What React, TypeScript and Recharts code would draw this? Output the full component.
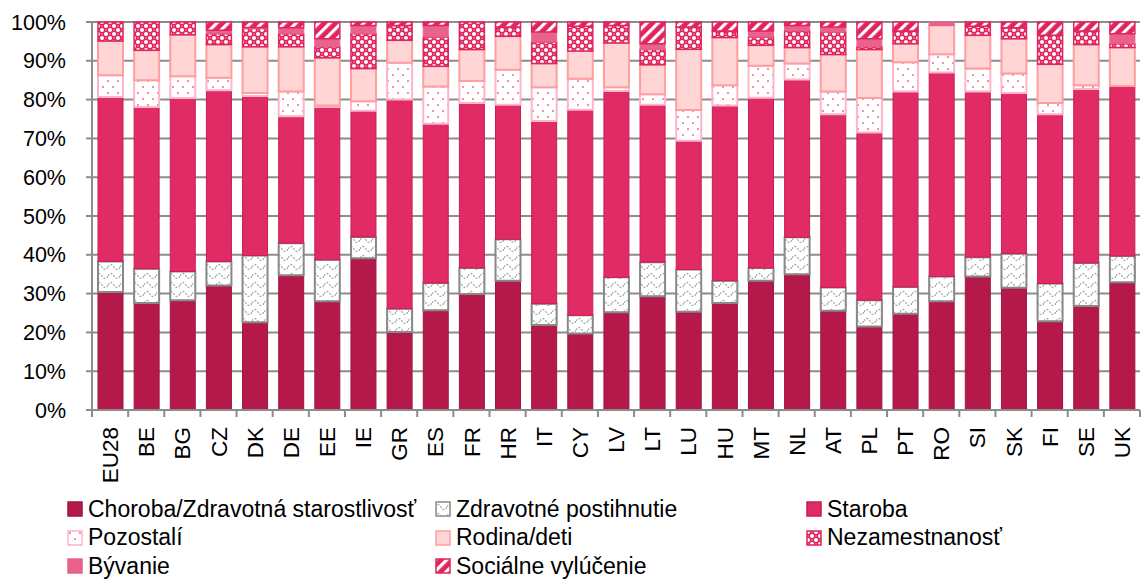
import React from 'react';
import { BarChart, Bar, XAxis, YAxis, CartesianGrid, Legend } from 'recharts';

const categories = ['EU28','BE','BG','CZ','DK','DE','EE','IE','GR','ES','FR','HR','IT','CY','LV','LT','LU','HU','MT','NL','AT','PL','PT','RO','SI','SK','FI','SE','UK'];

const choroba = [30.4,27.6,28.3,32.1,22.6,34.7,28.0,39.1,20.1,25.7,29.9,33.3,21.9,19.7,25.2,29.3,25.3,27.6,33.3,35.0,25.6,21.5,24.8,28.0,34.4,31.5,22.9,26.8,32.9];
const zdravotne = [7.9,8.8,7.4,6.2,17.2,8.3,10.7,5.5,6.0,7.0,6.7,10.7,5.5,4.7,9.0,8.8,10.9,5.7,3.3,9.5,6.0,6.8,6.9,6.4,5.0,8.8,9.7,11.1,6.8];
const staroba = [42.4,41.7,44.7,44.1,41.1,32.7,39.4,32.5,53.9,41.1,42.5,34.7,47.1,53.0,48.0,40.6,33.2,45.2,43.9,40.7,44.6,43.2,50.4,52.6,42.7,41.4,43.6,44.8,43.8];
const pozostali = [5.6,6.9,5.6,3.2,0.8,6.4,0.4,2.5,9.5,9.6,5.7,9.0,8.7,8.0,1.0,2.7,7.9,5.2,8.2,4.1,5.9,8.9,7.5,4.7,5.9,5.0,2.9,1.0,0];
const rodina = [8.8,7.7,10.7,8.6,11.9,11.5,12.3,8.4,5.8,5.2,8.1,8.6,6.1,7.1,11.4,7.6,15.7,12.3,5.3,4.1,9.5,12.5,4.8,7.4,8.6,9.0,10.0,10.5,9.9];
const nezamestnanost = [4.9,7.3,3.3,2.8,4.7,3.4,2.8,9.0,3.8,7.5,7.1,2.4,5.5,6.4,4.5,3.9,5.7,1.7,2.1,4.3,5.8,0.7,3.3,0,2.3,2.8,7.5,3.5,1.0];
const byvanie = [0,0,0,0.9,0.3,1.5,2.1,2.1,0,3.0,0,0,2.6,0,0,1.5,0,0,1.6,1.4,1.3,2.1,0,0.9,0,0,0,0,2.6];
const socialne = [0,0,0,2.1,1.4,1.5,4.3,0.9,0.9,0.9,0,1.3,2.6,1.1,0.9,5.6,1.3,2.3,2.3,0.9,1.3,4.3,2.3,0,1.1,1.5,3.4,2.3,3.0];

const yTicks = [0, 0.1, 0.2, 0.3, 0.4, 0.5, 0.6, 0.7, 0.8, 0.9, 1];

const data = categories.map((c, i) => ({
  name: c,
  choroba: choroba[i],
  zdravotne: zdravotne[i],
  staroba: staroba[i],
  pozostali: pozostali[i],
  rodina: rodina[i],
  nezamestnanost: nezamestnanost[i],
  byvanie: byvanie[i],
  socialne: socialne[i],
}));

const FONT = '"Liberation Sans", Arial, sans-serif';
const GRID = '#8c8c8c';

const series = [
  { key: 'choroba', name: 'Choroba/Zdravotná starostlivosť', fill: '#B5194A', stroke: '#A0153F', sw: 1 },
  { key: 'zdravotne', name: 'Zdravotné postihnutie', fill: 'url(#patWave)', stroke: '#888888', sw: 2 },
  { key: 'staroba', name: 'Staroba', fill: '#E02B65', stroke: '#C81E55', sw: 1 },
  { key: 'pozostali', name: 'Pozostalí', fill: 'url(#patDots)', stroke: '#FFB5C8', sw: 2 },
  { key: 'rodina', name: 'Rodina/deti', fill: '#FFD5D6', stroke: '#FF9E9E', sw: 2 },
  { key: 'nezamestnanost', name: 'Nezamestnanosť', fill: 'url(#patCheck)', stroke: '#E0245E', sw: 1.5 },
  { key: 'byvanie', name: 'Bývanie', fill: '#E8628C', stroke: '#E8628C', sw: 1 },
  { key: 'socialne', name: 'Sociálne vylúčenie', fill: 'url(#patStripe)', stroke: '#E0245E', sw: 1.5 },
];

const XTick = (props: any) => {
  const { x, y, payload, index } = props;
  const off = payload && payload.offset ? payload.offset : 18.07;
  const axisY = y - 10;
  const ty = axisY + 17;
  return (
    <g>
      <line x1={x - off} x2={x - off} y1={axisY} y2={axisY + 7} stroke={GRID} strokeWidth={2} />
      {index === categories.length - 1 && (
        <line x1={x + off} x2={x + off} y1={axisY} y2={axisY + 7} stroke={GRID} strokeWidth={2} />
      )}
      <text
        x={x}
        y={ty}
        transform={`rotate(-90 ${x} ${ty})`}
        textAnchor="end"
        dy="0.36em"
        fill="#000"
        fontSize={22.5}
        fontFamily={FONT}
      >
        {payload.value}
      </text>
    </g>
  );
};

const LegendContent = () => (
  <div
    style={{
      width: 1142,
      height: 103,
      boxSizing: 'border-box',
      paddingLeft: 67,
      paddingTop: 15,
      display: 'grid',
      gridTemplateColumns: '368px 371px 300px',
      gridAutoRows: '28.6px',
      fontFamily: FONT,
      fontSize: 23,
      color: '#000',
    }}
  >
    {series.map((s) => (
      <div key={s.key} style={{ display: 'flex', alignItems: 'center', whiteSpace: 'nowrap' }}>
        <svg width={16} height={16} style={{ marginRight: 5, flexShrink: 0 }}>
          <rect x={1} y={1} width={14} height={14} fill={s.fill} stroke={s.stroke} strokeWidth={1.5} />
        </svg>
        <span>{s.name}</span>
      </div>
    ))}
  </div>
);

export default function App() {
  return (
    <div style={{ position: 'absolute', left: 0, top: 0, width: 1142, height: 583, background: '#fff' }}>
      <BarChart
        width={1142}
        height={583}
        data={data}
        stackOffset="expand"
        margin={{ top: 22, right: 2, bottom: 0, left: 0 }}
        barSize={25}
      >
        <defs>
          <pattern id="patWave" patternUnits="userSpaceOnUse" width="12" height="9">
            <rect width="12" height="9" fill="#ffffff" />
            <path d="M0 6 Q3 1 6 6 T12 6" fill="none" stroke="#a8a8a8" strokeWidth="1.3" strokeDasharray="2 1.5" />
          </pattern>
          <pattern id="patDots" patternUnits="userSpaceOnUse" width="10" height="12">
            <rect width="10" height="12" fill="#ffffff" />
            <rect x="2" y="2" width="2" height="2" fill="#F48FB1" />
            <rect x="7" y="8" width="2" height="2" fill="#F48FB1" />
          </pattern>
          <pattern id="patCheck" patternUnits="userSpaceOnUse" width="8" height="8">
            <rect width="8" height="8" fill="#E0245E" />
            <circle cx="2" cy="2" r="2" fill="#ffffff" />
            <circle cx="6" cy="6" r="2" fill="#ffffff" />
            <rect x="5.5" y="1.5" width="1" height="1" fill="#ffffff" />
            <rect x="1.5" y="5.5" width="1" height="1" fill="#ffffff" />
          </pattern>
          <pattern id="patStripe" patternUnits="userSpaceOnUse" width="8" height="8" patternTransform="rotate(45)">
            <rect width="8" height="8" fill="#E0245E" />
            <rect x="0" y="0" width="3.2" height="8" fill="#ffffff" />
          </pattern>
        </defs>
        <CartesianGrid vertical={false} stroke={GRID} strokeWidth={2} />
        <XAxis
          dataKey="name"
          height={70}
          interval={0}
          tickLine={false}
          tickSize={6}
          tickMargin={4}
          axisLine={{ stroke: GRID, strokeWidth: 2 }}
          tick={<XTick />}
        />
        <YAxis
          width={92}
          domain={[0, 1]}
          ticks={yTicks}
          interval={0}
          tickFormatter={(v: number) => `${Math.round(v * 100)}%`}
          tick={{ fill: '#000', fontSize: 21.5, fontFamily: FONT }}
          tickSize={6}
          tickMargin={20}
          tickLine={{ stroke: GRID, strokeWidth: 2 }}
          axisLine={{ stroke: GRID, strokeWidth: 2 }}
        />
        <Legend verticalAlign="bottom" content={<LegendContent />} wrapperStyle={{ left: 0, width: 1142, height: 103 }} />
        {series.map((s) => (
          <Bar
            key={s.key}
            dataKey={s.key}
            name={s.name}
            stackId="a"
            fill={s.fill}
            stroke={s.stroke}
            strokeWidth={s.sw}
            isAnimationActive={false}
          />
        ))}
      </BarChart>
    </div>
  );
}
